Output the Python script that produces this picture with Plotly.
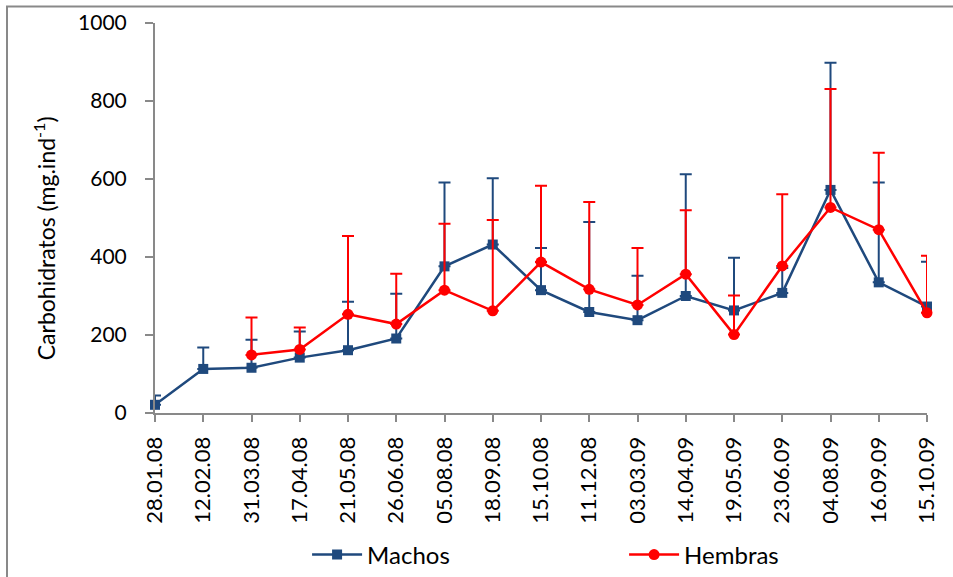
import plotly.graph_objects as go

# Sampling dates
fechas = ["28.01.08", "12.02.08", "31.03.08", "17.04.08", "21.05.08", "26.06.08",
          "05.08.08", "18.09.08", "15.10.08", "11.12.08", "03.03.09", "14.04.09",
          "19.05.09", "23.06.09", "04.08.09", "16.09.09", "15.10.09"]

# Mean carbohydrate content (mg.ind-1)
machos = [21, 113, 116, 142, 161, 191, 376, 432, 315, 259, 238, 300, 263, 308, 572, 335, 273]
hembras = [None, None, 149, 163, 253, 228, 315, 262, 387, 317, 277, 356, 201, 377, 527, 470, 257]

# Upper limit of the error bars (mean + SD)
machos_sup = [45, 168, 188, 209, 285, 306, 591, 602, 423, 490, 352, 612, 398, 372, 898, 591, 388]
hembras_sup = [None, None, 245, 219, 454, 357, 485, 495, 583, 541, 423, 520, 301, 561, 831, 667, 403]

AZUL = "#1F497D"
ROJO = "#FF0000"
GRIS = "#898989"
FUENTE = "Lato, Open Sans, sans-serif"


def desviacion(medias, superiores):
    return [None if m is None else s - m for m, s in zip(medias, superiores)]


fig = go.Figure()

fig.add_trace(go.Scatter(
    x=fechas, y=machos, name="Machos", mode="lines+markers",
    line=dict(color=AZUL, width=2.5),
    marker=dict(symbol="square", size=10, color=AZUL),
    error_y=dict(type="data", symmetric=False, array=desviacion(machos, machos_sup),
                 arrayminus=[0] * len(machos), color=AZUL, thickness=2, width=6),
    cliponaxis=False,
))

fig.add_trace(go.Scatter(
    x=fechas, y=hembras, name="Hembras", mode="lines+markers",
    line=dict(color=ROJO, width=2.5),
    marker=dict(symbol="circle", size=11, color=ROJO),
    error_y=dict(type="data", symmetric=False, array=desviacion(hembras, hembras_sup),
                 arrayminus=[0] * len(hembras), color=ROJO, thickness=2, width=6),
    cliponaxis=False,
    connectgaps=False,
))

fig.update_layout(
    width=953, height=577,
    margin=dict(l=155, r=26, t=23, b=164, autoexpand=False),
    plot_bgcolor="white", paper_bgcolor="white",
    font=dict(family=FUENTE, size=21, color="black"),
    showlegend=True,
    legend=dict(orientation="h", x=0.197, xanchor="left", y=-0.364, yanchor="middle",
                entrywidth=252, itemwidth=50, bgcolor="rgba(0,0,0,0)",
                font=dict(size=24)),
    xaxis=dict(
        type="category", range=[0, len(fechas) - 1], automargin=False,
        showline=True, linecolor=GRIS, linewidth=2,
        ticks="outside", ticklen=7, tickwidth=2, tickcolor=GRIS,
        tickangle=-90, showgrid=False, zeroline=False, ticklabelstandoff=6,
        tickfont=dict(size=22),
    ),
    yaxis=dict(
        range=[0, 1000], dtick=200, automargin=False,
        showline=True, linecolor=GRIS, linewidth=2,
        ticks="outside", ticklen=8, tickwidth=2, tickcolor=GRIS,
        showgrid=False, zeroline=False, ticklabelstandoff=14,
        tickfont=dict(size=21),
    ),
    annotations=[dict(
        text="Carbohidratos (mg.ind<sup>-1</sup>)", textangle=-90,
        xref="paper", yref="paper", x=-0.142, y=0.449,
        xanchor="center", yanchor="middle", showarrow=False,
        font=dict(size=23),
    )],
    shapes=[dict(
        type="rect", xref="paper", yref="paper",
        x0=-0.1917, x1=1.04, y0=-0.44, y1=1.0423,
        line=dict(color=GRIS, width=2), fillcolor="rgba(0,0,0,0)",
        layer="below",
    )],
)

fig.write_html("out.html")
